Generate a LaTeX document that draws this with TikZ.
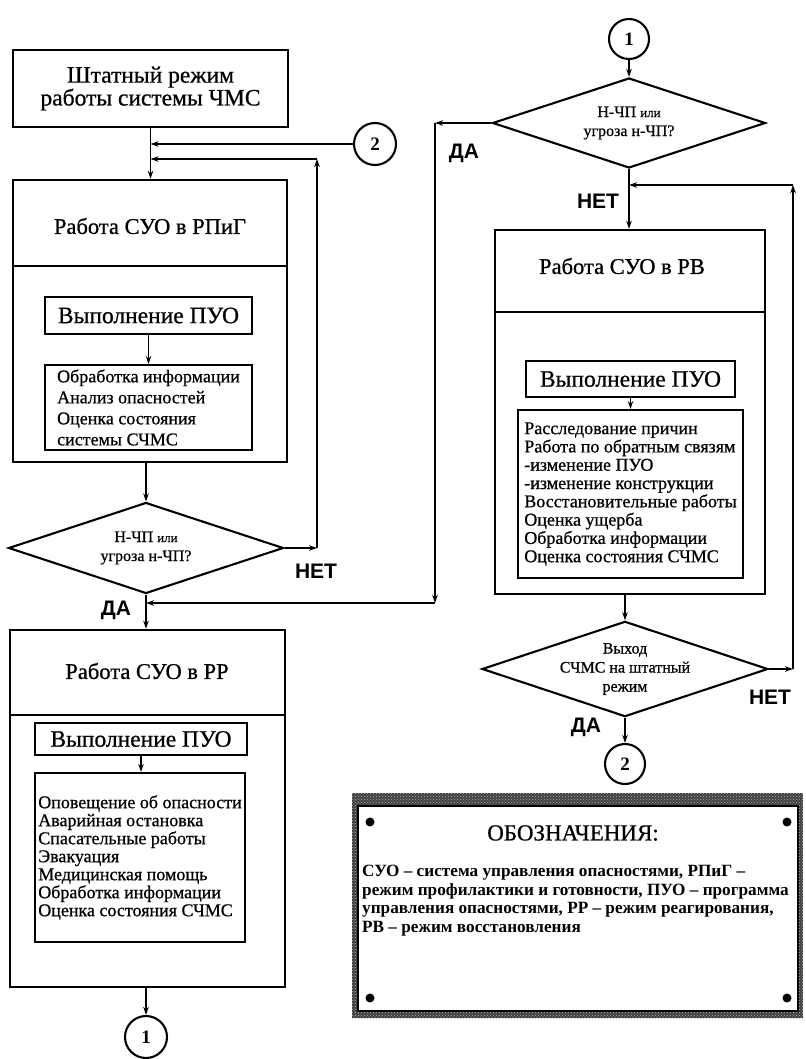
\documentclass[tikz,border=0pt]{standalone}
\usepackage{fontspec}
\setmainfont{Liberation Serif}
\newfontfamily\scanfont[FakeBold=0.7]{Liberation Serif}
\newfontfamily\lsans{Liberation Sans}
\usetikzlibrary{shapes.geometric,arrows.meta,patterns}
\tikzset{
 box/.style={draw, line width=2.5pt, shape=rectangle, inner sep=0pt},
 inbox/.style={draw, line width=2.1pt, shape=rectangle, inner sep=0pt},
 dec/.style={draw, shape=diamond, aspect=3, inner sep=0pt, line width=2.1pt, font=\scanfont\fontsize{16}{19}\selectfont, align=center},
 conn/.style={draw, shape=circle, line width=2.1pt, inner sep=0pt, minimum size=42pt, font=\bfseries\fontsize{19}{19}\selectfont},
 arr/.style={line width=1.9pt, -{Stealth[length=8pt,width=5.5pt]}},
 divl/.style={line width=2.4pt},
 yn/.style={font=\lsans\bfseries\fontsize{21}{21}\selectfont},
 ttl/.style={font=\scanfont\fontsize{22.5}{24}\selectfont},
 pu/.style={inbox, font=\scanfont\fontsize{23.5}{26}\selectfont},
 lst/.style={inbox, align=left, font=\scanfont\fontsize{18}{21}\selectfont},
}
\begin{document}
\begin{tikzpicture}[x=1pt,y=-1pt]
\useasboundingbox (0,0) rectangle (805,1059);
% ---------- left column ----------
\node[box, minimum width=275pt, minimum height=77pt, align=center, font=\scanfont\fontsize{23.5}{21.5}\selectfont] (top) at (150.5,88.5) {Штатный режим\\работы системы ЧМС};
\node[box, minimum width=274pt, minimum height=282pt] (b1) at (150,321) {};
\draw[divl] (b1.west |- 0,266) -- (b1.east |- 0,266);
\node[ttl] (t1) at (150,226) {Работа СУО в РПиГ};
\node[pu, minimum width=207pt, minimum height=37pt] (p1) at (148.5,315.5) {Выполнение ПУО};
\node[lst, minimum width=207pt, minimum height=85pt] (l1) at (148.5,407.5) {Обработка информации\\Анализ опасностей\\Оценка состояния\\системы СЧМС};
\draw[arr] (p1) -- (l1);
\draw[arr] (top.south) -- (top.south |- b1.north);
\node[conn] (c2a) at (375,144) {2};
\draw[arr] (c2a) -- (top.south |- c2a);
\node[dec, minimum width=275pt, minimum height=91pt] (d1) at (146,548) {Н-ЧП {\fontsize{13}{19}\selectfont или}\\угроза н-ЧП?};
\draw[arr] (d1.north |- b1.south) -- (d1.north);
\coordinate (n1) at (317,548);
\coordinate (n2) at (317,159);
\draw[arr] (d1.east) -- (n1);
\draw[arr] (n1) -- (n2);
\draw[arr] (n2) -- (top.south |- n2);
\node[yn] (net1) at (316,571) {НЕТ};
\node[yn] (da1) at (116,610) {ДА};
\node[box, minimum width=275pt, minimum height=357pt] (b2) at (147.5,808.5) {};
\draw[arr] (d1.south) -- (d1.south |- b2.north);
\draw[divl] (b2.west |- 0,715) -- (b2.east |- 0,715);
\node[ttl] (t2) at (147,671) {Работа СУО в РР};
\node[pu, minimum width=212pt, minimum height=32pt] (p2) at (141,739) {Выполнение ПУО};
\node[lst, minimum width=210pt, minimum height=169pt, font=\scanfont\fontsize{18}{18}\selectfont] (l2) at (140,857.5) {Оповещение об опасности\\Аварийная остановка\\Спасательные работы\\Эвакуация\\Медицинская помощь\\Обработка информации\\Оценка состояния СЧМС};
\draw[arr] (p2.south) -- (p2.south |- l2.north);
\node[conn] (c1b) at (146,1037) {1};
\draw[arr] (c1b.north |- b2.south) -- (c1b.north);
% ---------- right column ----------
\node[conn, minimum size=40pt] (c1a) at (629,39) {1};
\node[dec, minimum width=273pt, minimum height=90pt] (d2) at (629,123) {Н-ЧП {\fontsize{13}{19}\selectfont или}\\угроза н-ЧП?};
\draw[arr] (c1a.south) -- (d2.north);
\coordinate (y1) at (435,123);
\coordinate (y2) at (435,603);
\draw[arr] (d2.west) -- (y1);
\draw[arr] (y1) -- (y2);
\draw[arr] (y2) -- (d1.south |- y2);
\node[yn] (da2) at (464,153) {ДА};
\node[box, minimum width=270pt, minimum height=364pt] (b3) at (630,412) {};
\draw[arr] (d2.south) -- (d2.south |- b3.north);
\node[yn] (net2) at (598,201) {НЕТ};
\draw[divl] (b3.west |- 0,312) -- (b3.east |- 0,312);
\node[ttl] (t3) at (622,266) {Работа СУО в РВ};
\node[pu, minimum width=209pt, minimum height=36pt] (p3) at (630.5,379) {Выполнение ПУО};
\node[lst, minimum width=225pt, minimum height=168pt, font=\scanfont\fontsize{18}{18.3}\selectfont] (l3) at (630.5,494) {Расследование причин\\Работа по обратным связям\\-изменение ПУО\\-изменение конструкции\\Восстановительные работы\\Оценка ущерба\\Обработка информации\\Оценка состояния СЧМС};
\draw[arr] (p3) -- (l3);
\node[dec, minimum width=273pt, minimum height=92pt] (d3) at (625,669) {Выход\\СЧМС на штатный\\режим};
\draw[arr] (d3.north |- b3.south) -- (d3.north);
\coordinate (r1) at (793,669);
\coordinate (r2) at (793,185);
\draw[arr] (d3.east) -- (r1);
\draw[arr] (r1) -- (r2);
\draw[arr] (r2) -- (d2.south |- r2);
\node[yn] (net3) at (770,697) {НЕТ};
\node[conn, minimum size=40pt] (c2b) at (625,764) {2};
\draw[arr] (d3.south) -- (c2b.north);
\node[yn] (da3) at (586,727) {ДА};
% ---------- legend ----------
\fill[black!75] (352,793) rectangle (803,1018);
\fill[pattern=crosshatch dots, pattern color=gray!60] (352,793) rectangle (803,1018);
\draw[line width=2.2pt, fill=white] (358,806) rectangle (798,1011);
\foreach \p in {(370,822),(787,822),(370,998),(787,998)} \fill \p circle (4.5pt);
\node[font=\scanfont\fontsize{23}{23}\selectfont] (lt) at (573,833) {ОБОЗНАЧЕНИЯ:};
\node[anchor=north west, align=left, inner sep=0pt, font=\bfseries\fontsize{17.2}{18.5}\selectfont] (lx) at (362,865) {СУО – система управления опасностями, РПиГ –\\режим профилактики и готовности, ПУО – программа\\управления опасностями, РР – режим реагирования,\\РВ – режим восстановления};
\end{tikzpicture}
\end{document}
